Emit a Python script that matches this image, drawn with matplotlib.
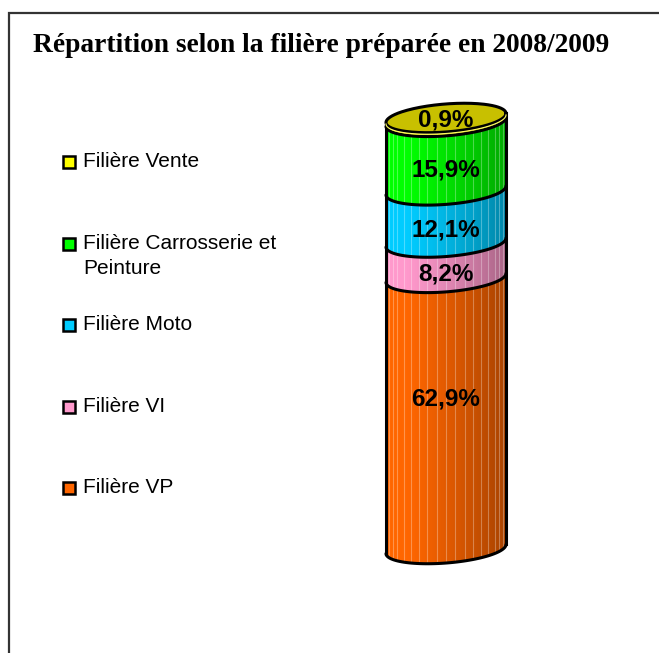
import matplotlib
matplotlib.use("Agg")
import matplotlib.pyplot as plt
import numpy as np
from matplotlib.patches import PathPatch, Rectangle
from matplotlib.path import Path

# Data (bottom to top of the stacked cylinder)
categories = ["Filière VP", "Filière VI", "Filière Moto",
              "Filière Carrosserie et\nPeinture", "Filière Vente"]
shares = [62.9, 8.2, 12.1, 15.9, 0.9]
labels = ["62,9%", "8,2%", "12,1%", "15,9%", "0,9%"]
colors = ["#FF6600", "#FF99CC", "#00CCFF", "#00FF00", "#FFFF00"]
title = "Répartition selon la filière préparée en 2008/2009"

W, H = 659, 653
B = 3.25   # ellipse half height (in % units)
S = 1.05   # tilt of the ellipses


def lower_arc(v, n=60):
    t = np.linspace(np.pi, 2 * np.pi, n)
    return np.cos(t), v + S * np.cos(t) + B * np.sin(t)


def band_path(v0, v1):
    x0, y0 = lower_arc(v0)
    x1, y1 = lower_arc(v1)
    xs = np.concatenate([x0, x1[::-1], [x0[0]]])
    ys = np.concatenate([y0, y1[::-1], [y0[0]]])
    return Path(np.column_stack([xs, ys]), closed=True)


fig = plt.figure(figsize=(W / 100, H / 100), dpi=100)
fig.patch.set_facecolor("white")

# outer frame (cut off at right and bottom like the original)
fig.add_artist(Rectangle((9 / W, -0.1), 1.2, 1 - 13 / H + 0.1,
                         transform=fig.transFigure, fill=False,
                         edgecolor="#333333", linewidth=1.6))

fig.text(321 / W, 1 - 52 / H, title, ha="center", va="baseline",
         fontsize=19.8, fontweight="bold", family="Liberation Serif")

# cylinder axes
ax = fig.add_axes([368 / W, 1 - 583.5 / H, 156 / W, 491.4 / H])
ax.set_xlim(-1.3, 1.3)
ax.set_ylim(-8, 106)
ax.axis("off")

tops = np.cumsum(shares)
bottoms = tops - np.array(shares)
total = tops[-1]

body = PathPatch(band_path(0, total), transform=ax.transData,
                 facecolor="none", edgecolor="none")
ax.add_patch(body)

for v0, v1, c in zip(bottoms, tops, colors):
    ax.add_patch(PathPatch(band_path(v0, v1), facecolor=c,
                           edgecolor="none", zorder=1))

# shading towards the right side
xx = np.linspace(-1, 1, 200)
alpha = 0.34 * np.clip((xx + 0.7) / 1.7, 0, 1) ** 1.2
shade = np.zeros((1, len(xx), 4))
shade[0, :, 3] = alpha
im = ax.imshow(shade, extent=(-1, 1, -10, 110), aspect="auto",
               zorder=2, interpolation="bilinear")
im.set_clip_path(body)

# thin facet stripes
for th in np.linspace(np.pi, 0, 21)[1:-1]:
    ln, = ax.plot([np.cos(th)] * 2, [-10, 110], color="white",
                  alpha=0.3, lw=0.8, zorder=3)
    ln.set_clip_path(body)

# outlines
for v in bottoms:
    x, y = lower_arc(v)
    ax.plot(x, y, color="black", lw=2.2, zorder=4, solid_capstyle="round")
for sx in (-1, 1):
    ax.plot([sx, sx], [sx * S, total + sx * S], color="black", lw=2.2,
            zorder=4)

# top cap
t = np.linspace(0, 2 * np.pi, 200)
ax.fill(np.cos(t), total + S * np.cos(t) + B * np.sin(t), color="#C8C000",
        zorder=5)
ax.plot(np.cos(t), total + S * np.cos(t) + B * np.sin(t), color="black",
        lw=2.2, zorder=6)
xt, yt = lower_arc(total)
ax.plot(xt, yt - 0.35, color="#FFFF66", lw=0.8, zorder=6)

# value labels: on the front face, tall segments nearer the middle
for i, (v0, v1, lab) in enumerate(zip(bottoms, tops, labels)):
    if i == len(labels) - 1:
        y = total - 0.4
    elif v1 - v0 > 30:
        y = (v0 + v1) / 2 + B
    else:
        y = (v0 + v1) / 2 - B
    ax.text(0, y, lab, ha="center", va="center", fontsize=17.5,
            fontweight="bold", family="Liberation Sans", zorder=7)

# legend (top entry first)
y_px = 162
for cat, c in zip(categories[::-1], colors[::-1]):
    fig.add_artist(Rectangle((63 / W, 1 - (y_px + 6) / H), 12 / W, 12 / H,
                             transform=fig.transFigure, facecolor=c,
                             edgecolor="black", linewidth=1.8))
    fig.text(83 / W, 1 - (y_px - 10) / H, cat, ha="left", va="top",
             fontsize=15, family="Liberation Sans", linespacing=1.4)
    y_px += 81.5

fig.savefig("out.png", dpi=100)
